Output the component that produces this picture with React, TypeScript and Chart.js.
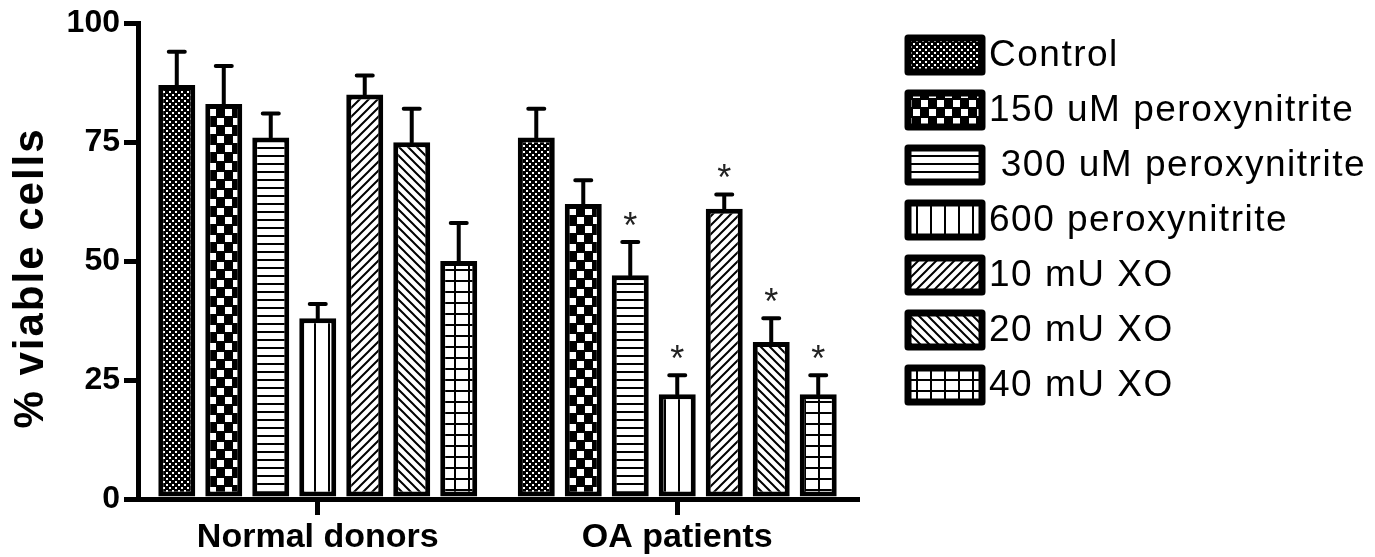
import React, { useEffect, useRef } from 'react';
import { Chart, registerables } from 'chart.js';

Chart.register(...registerables);

const groups = ['Normal donors', 'OA patients'];
const seriesNames = ['Control', '150 uM peroxynitrite', ' 300 uM peroxynitrite', '600 peroxynitrite', '10 mU XO', '20 mU XO', '40 mU XO'];

const controlMean = [87, 76];
const perox150Mean = [83, 62];
const perox300Mean = [76, 47];
const perox600Mean = [38, 22];
const xo10Mean = [85, 61];
const xo20Mean = [75, 33];
const xo40Mean = [50, 22];

const controlErr = [7, 6];
const perox150Err = [8, 5];
const perox300Err = [5, 7];
const perox600Err = [3, 4];
const xo10Err = [4, 3];
const xo20Err = [7, 5];
const xo40Err = [8, 4];

const controlSig = [false, false];
const perox150Sig = [false, false];
const perox300Sig = [false, true];
const perox600Sig = [false, true];
const xo10Sig = [false, true];
const xo20Sig = [false, true];
const xo40Sig = [false, true];

const yTicks = [0, 25, 50, 75, 100];
const yTitle = '% viable cells';

const FONT = '"Liberation Sans", Arial, sans-serif';

function pat(w: number, h: number, draw: (g: CanvasRenderingContext2D) => void) {
  const c = document.createElement('canvas');
  c.width = w;
  c.height = h;
  const g = c.getContext('2d') as CanvasRenderingContext2D;
  g.fillStyle = '#fff';
  g.fillRect(0, 0, w, h);
  g.fillStyle = '#000';
  g.strokeStyle = '#000';
  draw(g);
  return g.createPattern(c, 'repeat') as CanvasPattern;
}

function makePatterns() {
  const control = pat(6, 6, (g) => {
    g.fillRect(0, 0, 6, 6);
    g.fillStyle = '#fff';
    g.fillRect(1, 1, 2, 2);
    g.fillRect(4, 4, 2, 2);
  });
  const p150 = pat(16, 18, (g) => {
    g.fillRect(0, 0, 16, 18);
    g.fillStyle = '#fff';
    g.fillRect(1, 1, 7, 7);
    g.fillRect(9, 10, 7, 7);
  });
  const p300 = pat(8, 8, (g) => {
    g.fillRect(0, 3, 8, 2);
  });
  const p600 = pat(14, 8, (g) => {
    g.fillRect(6, 0, 2, 8);
  });
  const x10 = pat(9, 9, (g) => {
    g.lineWidth = 2;
    g.beginPath();
    g.moveTo(-1, 10); g.lineTo(10, -1);
    g.moveTo(-1, 1); g.lineTo(1, -1);
    g.moveTo(8, 10); g.lineTo(10, 8);
    g.stroke();
  });
  const x20 = pat(9, 9, (g) => {
    g.lineWidth = 2;
    g.beginPath();
    g.moveTo(-1, -1); g.lineTo(10, 10);
    g.moveTo(8, -1); g.lineTo(10, 1);
    g.moveTo(-1, 8); g.lineTo(1, 10);
    g.stroke();
  });
  const x40 = pat(14, 11, (g) => {
    g.fillRect(6, 0, 2, 11);
    g.fillRect(0, 5, 14, 2);
  });
  return [control, p150, p300, p600, x10, x20, x40];
}

const errorBarPlugin = {
  id: 'errorBars',
  afterDatasetsDraw(chart: any) {
    const ctx = chart.ctx as CanvasRenderingContext2D;
    const yScale = chart.scales.y;
    chart.data.datasets.forEach((ds: any, di: number) => {
      const meta = chart.getDatasetMeta(di);
      meta.data.forEach((el: any, i: number) => {
        const v = ds.data[i];
        const e = ds.errors[i];
        const top = yScale.getPixelForValue(v + e);
        ctx.save();
        ctx.strokeStyle = '#000';
        ctx.lineWidth = 4;
        ctx.lineCap = 'round';
        ctx.beginPath();
        ctx.moveTo(el.x, el.y);
        ctx.lineTo(el.x, top);
        ctx.moveTo(el.x - 8, top);
        ctx.lineTo(el.x + 8, top);
        ctx.stroke();
        if (ds.sig[i]) {
          ctx.fillStyle = '#222';
          ctx.font = `36px ${FONT}`;
          ctx.textAlign = 'center';
          ctx.textBaseline = 'alphabetic';
          ctx.fillText('*', el.x, top - 4);
        }
        ctx.restore();
      });
    });
  },
};

const legendTitlePlugin = {
  id: 'legendTitle',
  afterDraw(chart: any) {
    const ctx = chart.ctx as CanvasRenderingContext2D;
    ctx.save();
    chart.data.datasets.forEach((ds: any, i: number) => {
      const cy = 55 + i * 55;
      ctx.fillStyle = ds.backgroundColor;
      ctx.fillRect(908, cy - 17, 74, 34);
      ctx.strokeStyle = '#000';
      ctx.lineWidth = 7;
      ctx.lineJoin = 'round';
      ctx.strokeRect(908, cy - 17, 74, 34);
      ctx.fillStyle = '#000';
      ctx.font = `37px ${FONT}`;
      (ctx as any).letterSpacing = '1.5px';
      ctx.textAlign = 'left';
      ctx.textBaseline = 'middle';
      ctx.fillText(ds.label, 989, cy + 1);
    });
    (ctx as any).letterSpacing = '2px';
    ctx.translate(43, 278);
    ctx.rotate(-Math.PI / 2);
    ctx.font = `bold 42px ${FONT}`;
    ctx.fillStyle = '#000';
    ctx.textAlign = 'center';
    ctx.textBaseline = 'alphabetic';
    ctx.fillText(yTitle, 0, 0);
    ctx.restore();
  },
};

export default function App() {
  const ref = useRef<HTMLCanvasElement | null>(null);
  useEffect(() => {
    if (!ref.current) return;
    const patterns = makePatterns();
    const means = [controlMean, perox150Mean, perox300Mean, perox600Mean, xo10Mean, xo20Mean, xo40Mean];
    const errs = [controlErr, perox150Err, perox300Err, perox600Err, xo10Err, xo20Err, xo40Err];
    const sigs = [controlSig, perox150Sig, perox300Sig, perox600Sig, xo10Sig, xo20Sig, xo40Sig];
    const chart = new Chart(ref.current, {
      type: 'bar',
      data: {
        labels: groups,
        datasets: seriesNames.map((name, i) => ({
          label: name,
          data: means[i],
          errors: errs[i],
          sig: sigs[i],
          backgroundColor: patterns[i],
          borderColor: '#000',
          borderWidth: 5,
          borderSkipped: false,
          categoryPercentage: 0.915,
          barPercentage: 0.787,
        })) as any,
      },
      options: {
        animation: false,
        responsive: false,
        maintainAspectRatio: false,
        layout: { padding: { top: 21, right: 518, left: 0, bottom: 0 } },
        plugins: { legend: { display: false }, tooltip: { enabled: false } },
        scales: {
          x: {
            type: 'category',
            offset: true,
            z: 1,
            grid: { display: true, drawOnChartArea: false, drawTicks: true, tickLength: 16, lineWidth: 5, color: '#000', offset: false },
            border: { display: true, width: 5, color: '#000' },
            ticks: { color: '#000', font: { family: FONT, size: 34, weight: 'bold' }, padding: 2, maxRotation: 0 },
            afterFit: (s: any) => { s.height = 58; },
          },
          y: {
            min: 0,
            max: 100,
            z: 1,
            afterBuildTicks: (s: any) => { s.ticks = yTicks.map((v) => ({ value: v })); },
            grid: { drawOnChartArea: false, drawTicks: true, tickLength: 14, lineWidth: 5, color: '#000' },
            border: { display: true, width: 5, color: '#000' },
            ticks: { color: '#000', font: { family: FONT, size: 32, weight: 'bold' }, padding: 4 },
            afterFit: (s: any) => { s.width = 138; },
          },
        },
      } as any,
      plugins: [errorBarPlugin, legendTitlePlugin],
    });
    return () => chart.destroy();
  }, []);
  return (
    <div style={{ position: 'fixed', left: 0, top: 0, width: 1375, height: 557, background: '#fff' }}>
      <canvas ref={ref} width={1375} height={557} style={{ display: 'block' }} />
    </div>
  );
}
